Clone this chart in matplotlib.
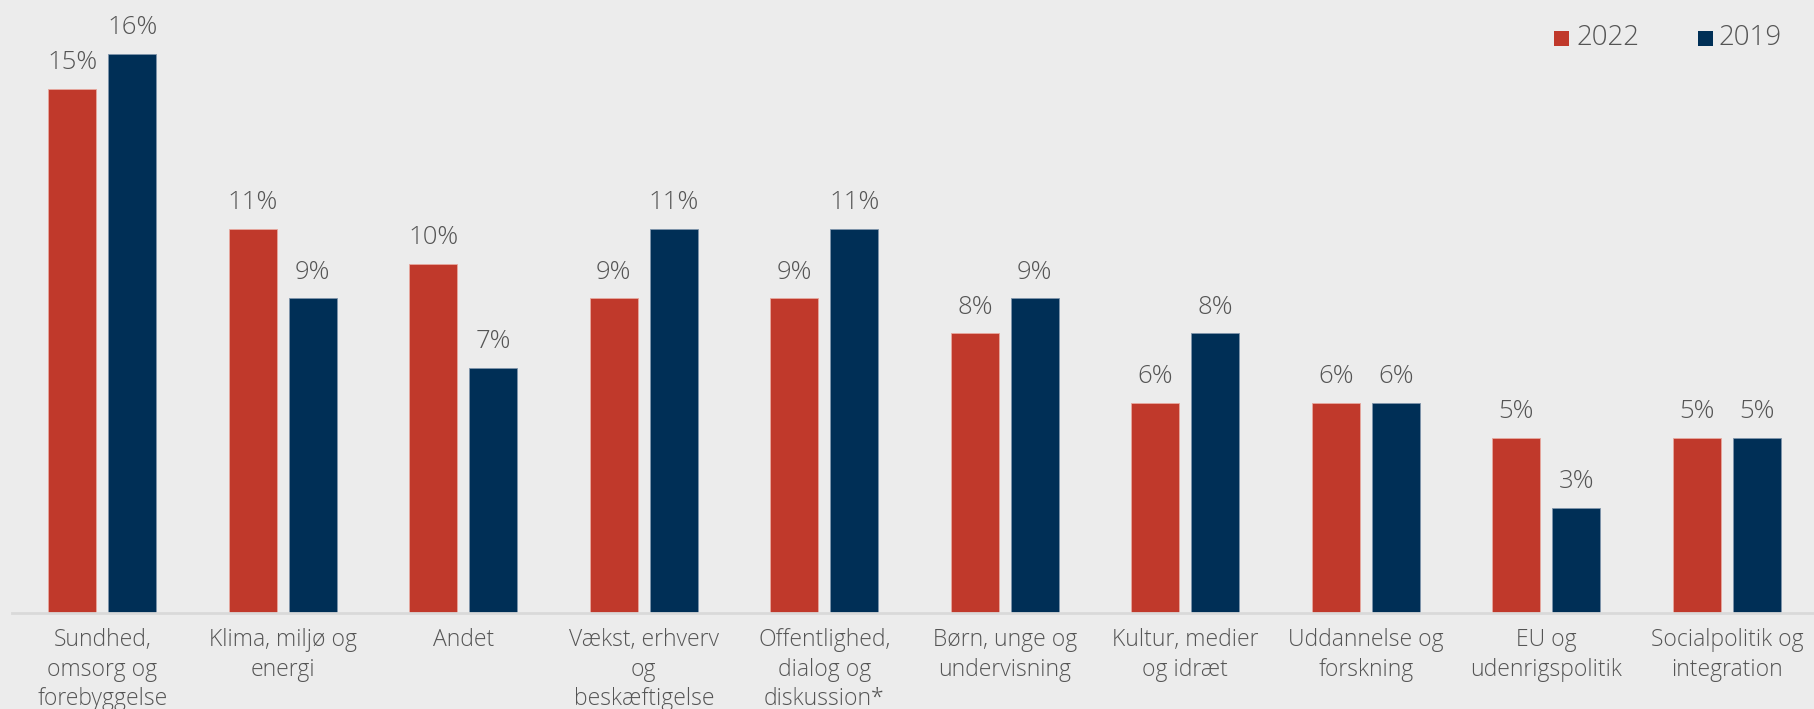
import matplotlib
matplotlib.use("Agg")
import matplotlib.pyplot as plt
from matplotlib.patches import Rectangle
import numpy as np

categories = ["Sundhed,\nomsorg og\nforebyggelse", "Klima, miljø og\nenergi", "Andet",
              "Vækst, erhverv\nog\nbeskæftigelse", "Offentlighed,\ndialog og\ndiskussion*",
              "Børn, unge og\nundervisning", "Kultur, medier\nog idræt", "Uddannelse og\nforskning",
              "EU og\nudenrigspolitik", "Socialpolitik og\nintegration"]
series_names = ["2022", "2019"]
values_2022 = [15, 11, 10, 9, 9, 8, 6, 6, 5, 5]
values_2019 = [16, 9, 7, 11, 11, 9, 8, 6, 3, 5]

RED = "#c0392b"
NAVY = "#002f56"
BG = "#ececec"
TXT = "#555555"
FONT = ["Open Sans", "DejaVu Sans"]
plt.rcParams['font.family'] = FONT

W, H = 1814, 709
fig = plt.figure(figsize=(W / 100, H / 100), dpi=100, facecolor=BG)
ax = fig.add_axes([12 / W, 96 / H, 1 - 12 / W, 1 - 96 / H], facecolor=BG)

x = np.arange(len(categories))
bw = 0.266
off = 0.166
b1 = ax.bar(x - off, values_2022, bw, color=RED, edgecolor="#e8a89f", linewidth=0.6)
b2 = ax.bar(x + off, values_2019, bw, color=NAVY, edgecolor="#7f95ab", linewidth=0.6)

for bars, vals in ((b1, values_2022), (b2, values_2019)):
    for r, v in zip(bars, vals):
        ax.annotate(f"{v}%", (r.get_x() + r.get_width() / 2, v), xytext=(0, 10),
                    textcoords="offset points", ha="center", va="bottom",
                    fontsize=18.5, color=TXT, fontweight="light")

ax.set_xlim(-0.5, 9.483)
ax.set_ylim(0, 17.54)
ax.set_yticks([])
ax.set_xticks(x)
ax.set_xticklabels(categories, fontsize=16.5, color=TXT, fontweight="light", linespacing=1.3)
ax.tick_params(axis="x", length=0, pad=11)
for s in ["top", "right", "left"]:
    ax.spines[s].set_visible(False)
ax.spines["bottom"].set_color("#d9d9d9")
ax.spines["bottom"].set_linewidth(2)

# legend
for xs, xt, col, name in ((1554, 1576, RED, series_names[0]), (1698, 1719, NAVY, series_names[1])):
    fig.patches.append(Rectangle((xs / W, 1 - 46 / H), 15 / W, 15 / H, transform=fig.transFigure,
                                 facecolor=col, edgecolor="none"))
    fig.text(xt / W, 1 - 38 / H, name, ha="left", va="center", fontsize=20, color=TXT,
             fontweight="light")

fig.savefig("out.png", dpi=100, facecolor=BG)
